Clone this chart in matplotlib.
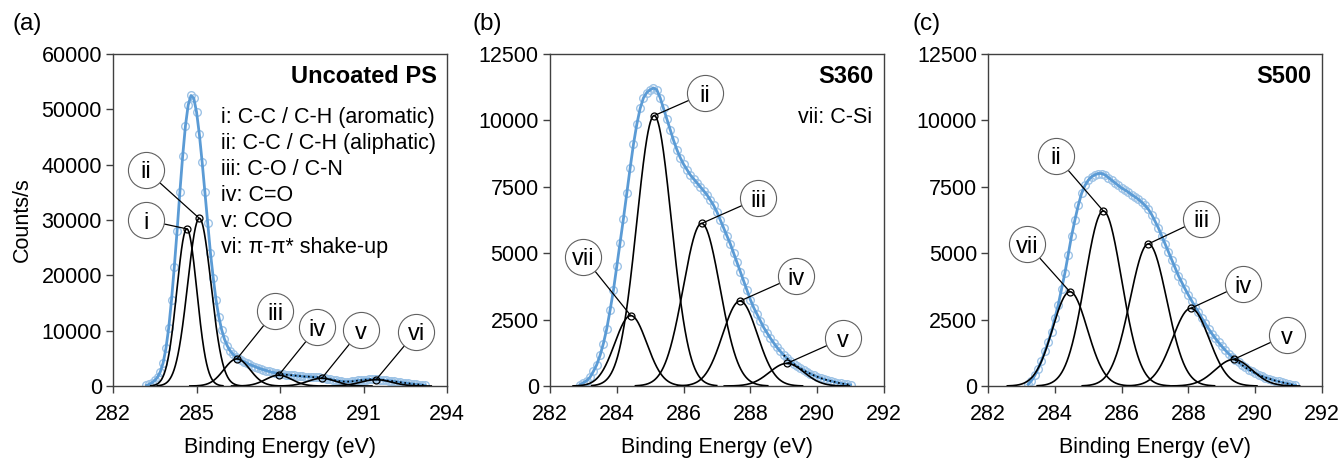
import numpy as np
import matplotlib
matplotlib.use('Agg')
import matplotlib.pyplot as plt

plt.rcParams['font.family'] = ['Liberation Sans', 'DejaVu Sans']

# ---- measured C 1s spectra (counts/s), 0.1 eV steps ----
energy_a = np.round(np.arange(283.2, 293.25, 0.1), 1)
counts_a = [100, 300, 600, 1000, 1600, 2600, 4200, 6800, 10500, 15500,
            21500, 28000, 35000, 41500, 47000, 50800, 52500, 52000, 49500, 45500,
            40500, 35000, 29500, 24000, 19500, 15500, 12500, 10200, 8500, 7300,
            6400, 5800, 5300, 5000, 4700, 4400, 4150, 3900, 3700, 3500,
            3300, 3100, 2950, 2800, 2650, 2500, 2400, 2300, 2200, 2100,
            2050, 2000, 1950, 1900, 1850, 1800, 1750, 1700, 1700, 1650,
            1600, 1600, 1550, 1500, 1400, 1300, 1200, 1100, 1000, 900,
            850, 800, 800, 800, 850, 900, 1000, 1050, 1100, 1150,
            1200, 1200, 1200, 1200, 1150, 1100, 1000, 950, 900, 850,
            750, 700, 600, 550, 500, 400, 350, 300, 250, 200, 150]

energy_b = np.round(np.arange(282.9, 291.05, 0.1), 1)
counts_b = [50, 120, 200, 330, 550, 800, 1150, 1600, 2150, 2850,
            3600, 4500, 5400, 6300, 7250, 8200, 9100, 9850, 10450, 10850,
            11050, 11150, 11220, 11150, 10850, 10450, 10050, 9650, 9250, 8900,
            8600, 8350, 8150, 7950, 7800, 7650, 7500, 7350, 7200, 7000,
            6800, 6550, 6250, 5950, 5650, 5350, 5000, 4650, 4300, 3950,
            3600, 3250, 2950, 2700, 2450, 2200, 2000, 1800, 1620, 1450,
            1300, 1160, 1040, 930, 830, 740, 660, 590, 520, 460,
            400, 350, 300, 260, 220, 190, 160, 130, 100, 80, 60, 40]

energy_c = np.round(np.arange(283.2, 291.25, 0.1), 1)
counts_c = [60, 200, 400, 650, 950, 1300, 1650, 2050, 2550, 3050,
            3650, 4250, 4950, 5650, 6250, 6800, 7250, 7550, 7750, 7880,
            7950, 8000, 8000, 7950, 7850, 7750, 7650, 7550, 7450, 7380,
            7300, 7200, 7120, 7030, 6920, 6800, 6650, 6450, 6200, 5950,
            5650, 5350, 5050, 4750, 4450, 4150, 3900, 3650, 3420, 3200,
            2980, 2770, 2560, 2360, 2160, 1970, 1800, 1640, 1490, 1350,
            1220, 1100, 990, 890, 790, 700, 620, 550, 480, 420,
            370, 320, 280, 240, 200, 170, 140, 110, 80, 50, 30]

# ---- fitted components: name, centre (eV), height (counts/s), sigma (eV) ----
names_a = ['i', 'ii', 'iii', 'iv', 'v', 'vi']
centre_a = [284.65, 285.10, 286.45, 287.95, 289.50, 291.45]
height_a = [28400, 30300, 4900, 1950, 1400, 1150]
sigma_a = [0.36, 0.42, 0.47, 0.47, 0.50, 0.55]

names_b = ['vii', 'ii', 'iii', 'iv', 'v']
centre_b = [284.42, 285.12, 286.54, 287.69, 289.09]
height_b = [2650, 10180, 6120, 3200, 850]
sigma_b = [0.48, 0.52, 0.55, 0.52, 0.52]

names_c = ['vii', 'ii', 'iii', 'iv', 'v']
centre_c = [284.45, 285.45, 286.80, 288.07, 289.35]
height_c = [3550, 6590, 5350, 2925, 1000]
sigma_c = [0.52, 0.55, 0.55, 0.55, 0.55]

legend_a = ['i: C-C / C-H (aromatic)', 'ii: C-C / C-H (aliphatic)',
            'iii: C-O / C-N', 'iv: C=O', 'v: COO', 'vi: π-π* shake-up']
legend_b = ['vii: C-Si']

# where the numbered circles sit (data coords)
tag_x_a = [283.17, 283.17, 287.83, 289.34, 290.90, 292.89]
tag_y_a = [30000, 39040, 13550, 10600, 10120, 9820]
tag_x_b = [283.00, 286.64, 288.24, 289.37, 290.78]
tag_y_b = [4870, 11020, 7067, 4140, 1795]
tag_x_c = [283.18, 284.03, 288.38, 289.64, 290.94]
tag_y_c = [5335, 8660, 6290, 3840, 1920]

BLUE = '#5b9bd5'
LIGHT = '#9dc3e6'
GREY = '#404040'


def gauss(x, x0, h, s):
    return h * np.exp(-(x - x0) ** 2 / (2 * s ** 2))


def draw_panel(ax, energy, counts, names, centres, heights, sigmas,
               tag_x, tag_y, tail_from, xlim, xticks, ylim, yticks):
    energy = np.asarray(energy)
    counts = np.asarray(counts, dtype=float)

    ax.plot(energy, counts, 'o', ms=5.5, mfc='none', mec=LIGHT, mew=1.0, zorder=1)
    ax.plot(energy, counts, '-', color=BLUE, lw=2.0, zorder=2)
    tail = energy >= tail_from
    ax.plot(energy[tail], counts[tail], ':', color='black', lw=1.2, zorder=3)

    for nm, x0, h, s, tx, ty in zip(names, centres, heights, sigmas, tag_x, tag_y):
        xx = np.linspace(x0 - 3.6 * s, x0 + 3.6 * s, 400)
        ax.plot(xx, gauss(xx, x0, h, s), color='black', lw=1.2, zorder=4)
        ax.plot([x0, tx], [h, ty], color='black', lw=0.9, zorder=5)
        ax.plot(x0, h, 'o', ms=5, mfc='none', mec='black', mew=0.9, zorder=7)
        ax.plot(tx, ty, 'o', ms=26, mfc='white', mec='#606060', mew=0.8, zorder=6)
        ax.text(tx, ty, nm, ha='center', va='center_baseline', fontsize=17, zorder=8)

    ax.set_xlim(*xlim)
    ax.set_ylim(*ylim)
    ax.set_xticks(xticks)
    ax.set_yticks(yticks)
    ax.tick_params(direction='out', length=5, width=1, color=GREY, labelsize=15.5)
    ax.tick_params(axis='x', pad=8)
    ax.tick_params(axis='y', pad=3)
    for sp in ax.spines.values():
        sp.set_color(GREY)
        sp.set_linewidth(1)
    ax.set_xlabel('Binding Energy (eV)', fontsize=15.5)
    ax.xaxis.set_label_coords(0.5, -0.155)


fig = plt.figure(figsize=(13.41, 4.58), dpi=100)
ax_a = fig.add_axes([0.0843, 0.1572, 0.2491, 0.7249])
ax_b = fig.add_axes([0.4101, 0.1572, 0.2491, 0.7249])
ax_c = fig.add_axes([0.7368, 0.1572, 0.2491, 0.7249])

draw_panel(ax_a, energy_a, counts_a, names_a, centre_a, height_a, sigma_a,
           tag_x_a, tag_y_a, 287.9, (282, 294), np.arange(282, 295, 3),
           (0, 60000), np.arange(0, 60001, 10000))
draw_panel(ax_b, energy_b, counts_b, names_b, centre_b, height_b, sigma_b,
           tag_x_b, tag_y_b, 289.0, (282, 292), np.arange(282, 293, 2),
           (0, 12500), np.arange(0, 12501, 2500))
draw_panel(ax_c, energy_c, counts_c, names_c, centre_c, height_c, sigma_c,
           tag_x_c, tag_y_c, 289.3, (282, 292), np.arange(282, 293, 2),
           (0, 12500), np.arange(0, 12501, 2500))

ax_a.set_ylabel('Counts/s', fontsize=15.5)
ax_a.yaxis.set_label_coords(-0.24, 0.5)

for ax, title in zip([ax_a, ax_b, ax_c], ['Uncoated PS', 'S360', 'S500']):
    ax.text(0.968, 0.931, title, transform=ax.transAxes, ha='right', va='center',
            fontsize=17, fontweight='bold')

for k, line in enumerate(legend_a):
    ax_a.text(0.323, 0.810 - k * 0.0783, line, transform=ax_a.transAxes,
              ha='left', va='center', fontsize=15.5)
ax_b.text(0.963, 0.810, legend_b[0], transform=ax_b.transAxes,
          ha='right', va='center', fontsize=15.5)

for x, letter in zip([12, 472, 912], ['(a)', '(b)', '(c)']):
    fig.text(x / 1341, 1 - 24 / 458, letter, ha='left', va='center', fontsize=17.5)

fig.savefig('out.png', dpi=100)
